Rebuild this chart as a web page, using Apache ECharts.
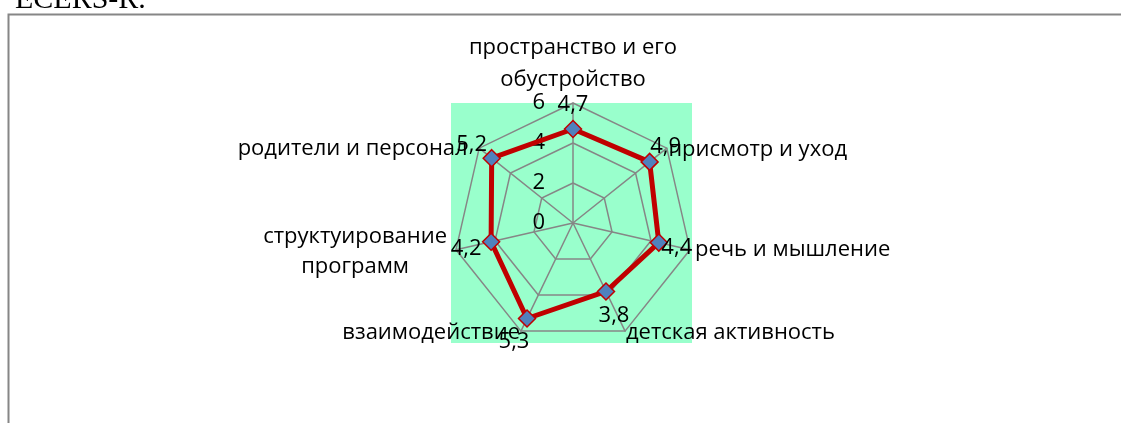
<!DOCTYPE html>
<html><head><meta charset="utf-8">
<script src="https://cdn.jsdelivr.net/npm/echarts@6/dist/echarts.min.js"></script>
<style>html,body{margin:0;padding:0;background:#fff;overflow:hidden}#c{width:1121px;height:423px}</style>
</head><body><div id="c"></div>
<script>
// ---- data (clockwise order, starting at the top) ----
const categories = ['пространство и его\nобустройство', 'присмотр и уход', 'речь и мышление', 'детская активность', 'взаимодействие', 'структуирование\nпрограмм', 'родители и персонал'];
const values = [4.7, 4.9, 4.4, 3.8, 5.3, 4.2, 5.2];
const axisMin = 0;
const axisMax = 6;
const tickLabels = ['0', '2', '4', '6'];
const docText = 'ECERS-R.';

// ---- style ----
const FONT = "'Open Sans', 'Noto Sans', sans-serif";
const FS = 22;
// ECharts draws indicators counter-clockwise: feed them in reversed order after the first
const order = [0].concat(categories.map((_, i) => i).slice(1).reverse());

// value label nudges [dx, dy] from the point (by original index)
const valNudge = [[0, -24], [16, -15], [18, 5], [8, 24], [-13, 23], [-25, 7], [-20, -13]];
function padFor(n) {
  const dx = n[0], dy = n[1];
  return [dy > 0 ? 2 * dy : 0, dx < 0 ? -2 * dx : 0, dy < 0 ? -2 * dy : 0, dx > 0 ? 2 * dx : 0];
}
const valRich = {};
valNudge.forEach((n, i) => { valRich['v' + i] = { padding: padFor(n), fontSize: FS, fontFamily: FONT, color: '#000' }; });

// axis-name paddings [top, right, bottom, left] and line heights (by original index)
const namePad = [[0, 0, 0, 0], [6, 0, 0, 0], [0, 0, 0, 3], [0, 0, 0, 0], [0, 0, 0, 0], [8, 7, 0, 0], [4, 10, 0, 0]];
const nameLH = [[40, 24], [32], [32], [32], [32], [34, 34], [32]];
const ctx = document.createElement('canvas').getContext('2d');
ctx.font = FS + "px 'Open Sans', 'Noto Sans', sans-serif";
const nameRich = {};
namePad.forEach((p, i) => {
  const lines = categories[i].split('\n');
  const w = lines.map(l => ctx.measureText(l).width);
  const wMax = Math.max.apply(null, w);
  lines.forEach((l, j) => {
    const extra = lines.length > 1 ? (wMax - w[j]) / 2 : 0;
    nameRich['n' + i + '_' + j] = {
      padding: [j === 0 ? p[0] : 0, p[1] + extra, j === lines.length - 1 ? p[2] : 0, p[3] + extra],
      fontSize: FS, fontFamily: FONT, color: '#000', lineHeight: nameLH[i][j]
    };
  });
});
function nameFormatter(name) {
  const i = categories.indexOf(name);
  return name.split('\n').map((l, j) => '{n' + i + '_' + j + '|' + l + '}').join('\n');
}

const chart = echarts.init(document.getElementById('c'), null, { renderer: 'canvas' });
chart.setOption({
  backgroundColor: '#ffffff',
  animation: false,
  graphic: [
    { type: 'rect', z: -10, shape: { x: 451, y: 103, width: 241, height: 240 }, style: { fill: '#99FFCC' } },
    { type: 'polyline', z: -10, shape: { points: [[8.5, 423], [8.5, 14.5], [1121, 14.5]] }, style: { stroke: '#868686', lineWidth: 2, fill: null } },
    { type: 'text', x: 15, y: 0.5, style: { text: docText, font: "30px 'Liberation Serif', serif", fill: '#000', verticalAlign: 'middle' } }
  ],
  radar: {
    center: [573, 223],
    radius: 120,
    startAngle: 90,
    shape: 'polygon',
    splitNumber: 3,
    indicator: order.map((k, j) => ({
      name: categories[k], min: axisMin, max: axisMax,
      axisLabel: j === 0 ? { show: true } : { show: false }
    })),
    axisName: { color: '#000', fontSize: FS, fontFamily: FONT, lineHeight: 32, formatter: nameFormatter, rich: nameRich },
    nameGap: 2,
    splitArea: { show: false },
    splitLine: { lineStyle: { color: '#868686', width: 1.5 } },
    axisLine: { lineStyle: { color: '#868686', width: 1.5 } },
    axisTick: { show: false },
    axisLabel: {
      show: false, color: '#000', fontSize: FS, fontFamily: FONT, margin: 28,
      formatter: v => tickLabels[Math.round(v / 2)]
    }
  },
  series: [{
    type: 'radar',
    symbol: 'diamond',
    symbolSize: 17,
    lineStyle: { color: '#C00000', width: 5 },
    itemStyle: { color: '#4F81BD', borderColor: '#C00000', borderWidth: 1.5 },
    label: {
      show: true, position: 'inside', fontSize: FS, fontFamily: FONT, color: '#000',
      formatter: p => {
        const i = (p.dimensionIndex != null) ? order[p.dimensionIndex] : values.indexOf(p.value);
        return '{v' + i + '|' + String(p.value).replace('.', ',') + '}';
      },
      rich: valRich
    },
    data: [{ value: order.map(k => values[k]), name: 'ECERS-R' }]
  }]
});
</script></body></html>
